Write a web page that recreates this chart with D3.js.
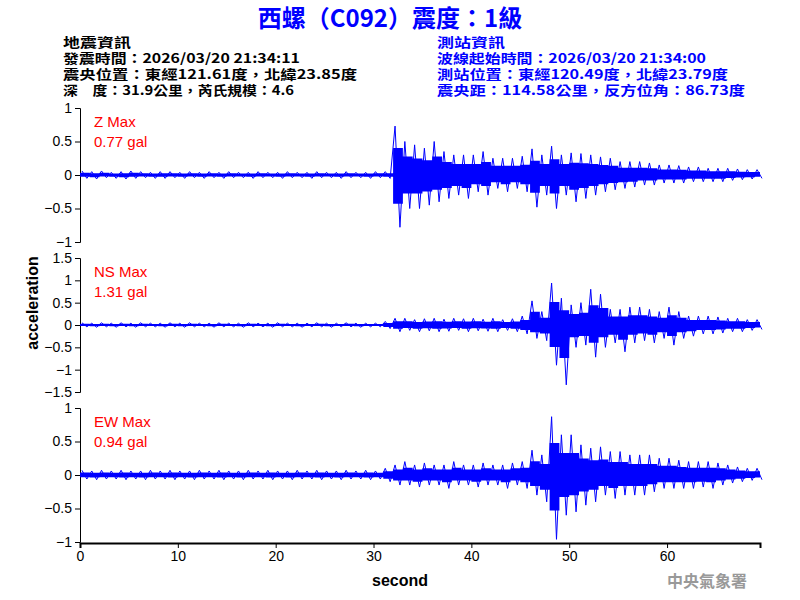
<!DOCTYPE html>
<html><head><meta charset="utf-8">
<script src="https://cdn.jsdelivr.net/npm/d3@7"></script>
<style>body{margin:0;background:#fff;} text{font-family:"Liberation Sans",Arial,"Noto Sans CJK TC",sans-serif;}</style>
</head><body>
<script>
// per-second peak values (upper / lower), t = 0..69 s
var zMax  = [0.06,0.05,0.06,0.04,0.05,0.06,0.05,0.04,0.05,0.05,0.04,0.05,0.04,0.05,0.04,0.05,0.04,0.04,0.05,0.04,0.04,0.05,0.04,0.04,0.05,0.04,0.04,0.05,0.04,0.04,0.05,0.05,0.73,0.5,0.45,0.4,0.5,0.35,0.3,0.3,0.3,0.35,0.25,0.25,0.25,0.28,0.39,0.3,0.43,0.3,0.33,0.32,0.3,0.27,0.25,0.2,0.2,0.2,0.18,0.15,0.15,0.14,0.12,0.12,0.1,0.1,0.1,0.09,0.08,0.08];
var zMin  = [-0.05,-0.06,-0.04,-0.05,-0.06,-0.05,-0.04,-0.05,-0.05,-0.04,-0.05,-0.04,-0.05,-0.04,-0.05,-0.04,-0.04,-0.05,-0.04,-0.04,-0.05,-0.04,-0.04,-0.05,-0.04,-0.04,-0.05,-0.04,-0.04,-0.05,-0.04,-0.05,-0.78,-0.5,-0.5,-0.45,-0.4,-0.35,-0.3,-0.35,-0.25,-0.3,-0.2,-0.25,-0.2,-0.25,-0.48,-0.3,-0.5,-0.3,-0.4,-0.35,-0.3,-0.25,-0.22,-0.2,-0.18,-0.15,-0.15,-0.12,-0.12,-0.12,-0.1,-0.1,-0.1,-0.1,-0.08,-0.07,-0.06,-0.05];
var nsMax = [0.05,0.04,0.05,0.04,0.05,0.04,0.05,0.04,0.04,0.05,0.04,0.05,0.04,0.04,0.05,0.04,0.04,0.05,0.04,0.04,0.05,0.04,0.04,0.04,0.05,0.04,0.04,0.05,0.04,0.04,0.04,0.08,0.15,0.15,0.12,0.14,0.15,0.13,0.15,0.14,0.15,0.13,0.15,0.12,0.14,0.2,0.54,0.3,0.94,0.6,0.45,0.5,0.8,0.69,0.35,0.35,0.4,0.4,0.35,0.3,0.4,0.3,0.2,0.2,0.2,0.18,0.15,0.15,0.12,0.12];
var nsMin = [-0.04,-0.05,-0.04,-0.05,-0.04,-0.05,-0.04,-0.04,-0.05,-0.04,-0.05,-0.04,-0.04,-0.05,-0.04,-0.04,-0.05,-0.04,-0.04,-0.05,-0.04,-0.04,-0.05,-0.04,-0.04,-0.05,-0.04,-0.04,-0.05,-0.04,-0.04,-0.08,-0.15,-0.12,-0.15,-0.13,-0.15,-0.14,-0.12,-0.15,-0.13,-0.14,-0.15,-0.12,-0.15,-0.2,-0.3,-0.35,-0.9,-1.34,-0.5,-0.45,-0.72,-0.5,-0.4,-0.6,-0.4,-0.35,-0.4,-0.3,-0.45,-0.3,-0.25,-0.2,-0.2,-0.18,-0.15,-0.15,-0.12,-0.1];
var ewMax = [0.07,0.06,0.07,0.06,0.07,0.06,0.06,0.07,0.06,0.07,0.06,0.06,0.07,0.06,0.07,0.06,0.06,0.07,0.06,0.07,0.06,0.06,0.07,0.06,0.07,0.06,0.06,0.07,0.06,0.07,0.06,0.1,0.15,0.2,0.15,0.18,0.15,0.15,0.2,0.15,0.15,0.18,0.15,0.15,0.18,0.2,0.37,0.3,0.87,0.6,0.6,0.45,0.4,0.42,0.35,0.35,0.3,0.3,0.3,0.25,0.25,0.22,0.2,0.2,0.2,0.18,0.15,0.12,0.1,0.1];
var ewMin = [-0.06,-0.07,-0.06,-0.06,-0.07,-0.06,-0.07,-0.06,-0.06,-0.07,-0.06,-0.07,-0.06,-0.06,-0.07,-0.06,-0.07,-0.06,-0.06,-0.07,-0.06,-0.07,-0.06,-0.06,-0.07,-0.06,-0.07,-0.06,-0.06,-0.07,-0.06,-0.1,-0.15,-0.15,-0.18,-0.15,-0.15,-0.2,-0.15,-0.15,-0.18,-0.15,-0.15,-0.2,-0.15,-0.2,-0.3,-0.4,-0.96,-0.6,-0.55,-0.45,-0.4,-0.3,-0.35,-0.3,-0.3,-0.3,-0.25,-0.2,-0.2,-0.2,-0.2,-0.18,-0.2,-0.15,-0.12,-0.1,-0.08,-0.07];

var panels = [
  {name:"Z Max",  peak:"0.77 gal", top:108, lim:1,   ticks:[1,0.5,0,-0.5,-1],          hi:zMax,  lo:zMin},
  {name:"NS Max", peak:"1.31 gal", top:258, lim:1.5, ticks:[1.5,1,0.5,0,-0.5,-1,-1.5], hi:nsMax, lo:nsMin},
  {name:"EW Max", peak:"0.94 gal", top:408, lim:1,   ticks:[1,0.5,0,-0.5,-1],          hi:ewMax, lo:ewMin}
];
var xTicks = [0,10,20,30,40,50,60];

var svg = d3.select("body").append("svg").attr("width",800).attr("height",600);
var x = d3.scaleLinear().domain([0,69.5]).range([80,760]);

panels.forEach(function(p){
  var y = d3.scaleLinear().domain([-p.lim,p.lim]).range([p.top+134,p.top]);
  var g = svg.append("g").attr("transform","translate(80,0)")
    .call(d3.axisLeft(y).tickValues(p.ticks).tickSize(5).tickFormat(d3.format("")));
  g.selectAll("text").attr("font-size",14).attr("font-family","Liberation Sans");
  var bins = p.hi.map(function(v,i){ return {t:i, hi:v, lo:p.lo[i]}; });
  bins.push({t:p.hi.length, hi:p.hi[p.hi.length-1], lo:p.lo[p.lo.length-1]});
  // min/max envelope per second, filled like a dense trace
  svg.append("path").datum(bins).attr("fill","#0000ff").attr("stroke","none")
    .attr("d", d3.area().curve(d3.curveStepAfter)
      .x(function(d){return x(Math.min(d.t,69.5));})
      .y0(function(d){return y(d.lo*0.55);}).y1(function(d){return y(d.hi*0.55);}));
  // spikes: peak strokes
  var pts = [];
  p.hi.forEach(function(v,i){ pts.push([i+0.2,v]); pts.push([i+0.7,p.lo[i]]); });
  svg.append("path").datum(pts).attr("fill","none").attr("stroke","#0000ff").attr("stroke-width",1)
    .attr("d", d3.line().x(function(d){return x(d[0]);}).y(function(d){return y(d[1]);}));
  svg.append("text").attr("x",94).attr("y",p.top+19).attr("fill","#ff0000").attr("font-size",15).text(p.name);
  svg.append("text").attr("x",94).attr("y",p.top+39).attr("fill","#ff0000").attr("font-size",15).text(p.peak);
});

var xa = svg.append("g").attr("transform","translate(0,543)")
  .call(d3.axisBottom(x).tickValues(xTicks).tickSize(5));
xa.selectAll("text").attr("font-size",14).attr("font-family","Liberation Sans");
xa.select(".domain").attr("stroke-width",2);

svg.append("text").attr("x",400).attr("y",586).attr("text-anchor","middle").attr("font-size",16).attr("font-weight","bold").text("second");
svg.append("text").attr("transform","translate(38,303) rotate(-90)").attr("text-anchor","middle").attr("font-size",16).attr("font-weight","bold").text("acceleration");

svg.append("text").attr("x",390).attr("y",27).attr("text-anchor","middle").attr("fill","#0000ff").attr("font-size",24).attr("font-weight","bold")
  .style("font-family","'Noto Sans CJK TC'").text("西螺（C092）震度：1級");

var left = ["地震資訊","發震時間：2026/03/20 21:34:11","震央位置：東經121.61度，北緯23.85度","深　度：31.9公里，芮氏規模：4.6"];
var leftW = [68,237,294,231];
var right = ["測站資訊","波線起始時間：2026/03/20 21:34:00","測站位置：東經120.49度，北緯23.79度","震央距：114.58公里，反方位角：86.73度"];
var rightW = [68,269,291,308];
left.forEach(function(t,i){
  svg.append("text").attr("x",63).attr("y",47+i*16).attr("font-size",13).attr("font-weight","bold")
    .attr("textLength",leftW[i]).attr("lengthAdjust","spacingAndGlyphs").style("font-family","'Noto Sans CJK TC'").text(t);
});
right.forEach(function(t,i){
  svg.append("text").attr("x",437).attr("y",47+i*16).attr("font-size",13).attr("font-weight","bold").attr("fill","#0000ff")
    .attr("textLength",rightW[i]).attr("lengthAdjust","spacingAndGlyphs").style("font-family","'Noto Sans CJK TC'").text(t);
});
svg.append("text").attr("x",747).attr("y",587).attr("text-anchor","end").attr("font-size",16).attr("font-weight","bold").attr("fill","#999")
  .style("font-family","'Noto Sans CJK TC'").text("中央氣象署");
</script>
</body></html>
